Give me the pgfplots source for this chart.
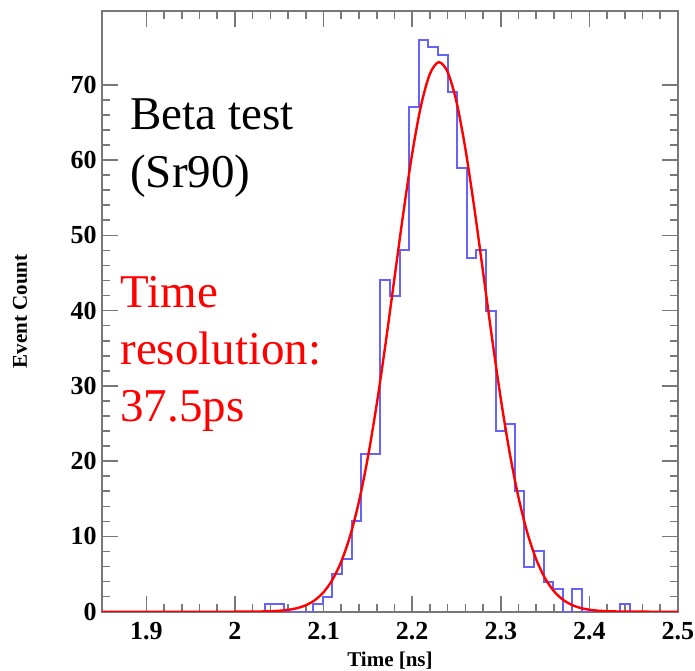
\documentclass[border=0pt]{standalone}
\usepackage{pgfplots}
\pgfplotsset{compat=1.18}
\usepackage{fontspec}
\setmainfont{Liberation Serif}
\definecolor{histblue}{RGB}{100,100,250}
\definecolor{framegray}{RGB}{120,120,120}
\begin{document}
\begin{tikzpicture}
\useasboundingbox (-51pt,-29.5pt) rectangle (296.5pt,305.85pt);
\begin{axis}[
  at={(0pt,0pt)}, anchor=south west,
  scale only axis, width=288pt, height=300.35pt,
  xmin=1.85, xmax=2.5, ymin=0, ymax=79.8,
  xtick={1.9,2,2.1,2.2,2.3,2.4,2.5},
  xticklabels={1.9,2,2.1,2.2,2.3,2.4,2.5},
  ytick={0,10,20,30,40,50,60,70},
  minor x tick num=4, minor y tick num=4,
  tick align=inside, xtick pos=both, ytick pos=both,
  major tick length=8pt, minor tick length=4pt,
  axis line style={framegray, line width=1pt},
  tick style={framegray, line width=0.8pt},
  /pgf/number format/assume math mode=true,
  tick label style={font=\fontsize{13}{13}\selectfont\bfseries, inner sep=0pt},
  xticklabel style={anchor=north, yshift=-5pt},
  yticklabel style={anchor=east, xshift=-2.5pt},
  xlabel={Time [ns]}, ylabel={Event Count},
  xlabel style={at={(axis description cs:0.5,-0.0916)}, anchor=base, font=\fontsize{10.5}{12}\selectfont\bfseries, inner sep=0pt},
  ylabel style={at={(axis description cs:-0.1424,0.5)}, anchor=center, font=\fontsize{10.5}{12}\selectfont\bfseries, inner sep=0pt},
]
\addplot[const plot, histblue, line width=1pt] coordinates {
(1.85,0) (2.0342,1) (2.0558,0) (2.0883,1) (2.0992,2) (2.1100,5) (2.1208,7)
(2.1317,12) (2.1425,21) (2.1642,44) (2.1750,42) (2.1858,48) (2.1967,67)
(2.2075,76) (2.2183,75) (2.2292,74) (2.2400,69) (2.2508,59) (2.2617,47)
(2.2725,48) (2.2833,40) (2.2942,24) (2.3050,25) (2.3158,16) (2.3267,6)
(2.3375,8) (2.3483,4) (2.3592,3) (2.3700,0) (2.3808,3) (2.3917,0)
(2.4350,1) (2.4458,0) (2.5,0)};
\addplot[red, line width=1.2pt, smooth] coordinates {
(1.85,0) (1.95,0) (2.00,0.001) (2.02,0.012) (2.04,0.059) (2.05,0.123) (2.06,0.245)
(2.07,0.468) (2.08,0.860) (2.09,1.523) (2.10,2.591) (2.11,4.236) (2.12,6.662)
(2.13,10.07) (2.14,14.65) (2.15,20.49) (2.16,27.55) (2.17,35.62) (2.18,44.28)
(2.19,52.93) (2.20,60.83) (2.21,67.23) (2.22,71.44) (2.23,73.0) (2.24,71.72)
(2.25,67.75) (2.26,61.55) (2.27,53.76) (2.28,45.15) (2.29,36.47) (2.30,28.32)
(2.31,21.14) (2.32,15.18) (2.33,10.48) (2.34,6.955) (2.35,4.441) (2.36,2.725)
(2.37,1.608) (2.38,0.913) (2.39,0.498) (2.40,0.262) (2.41,0.132) (2.42,0.064)
(2.44,0.013) (2.46,0.002) (2.5,0)};
\node[anchor=base west, inner sep=0pt, font=\fontsize{23.5}{28}\selectfont] at (axis cs:1.8815,64.0) {Beta test};
\node[anchor=base west, inner sep=0pt, font=\fontsize{23.5}{28}\selectfont] at (axis cs:1.8815,56.4) {(Sr90)};
\node[anchor=base west, inner sep=0pt, text=red, font=\fontsize{23.5}{28}\selectfont] at (axis cs:1.8703,40.4) {Time};
\node[anchor=base west, inner sep=0pt, text=red, font=\fontsize{23.5}{28}\selectfont] at (axis cs:1.8703,32.85) {resolution:};
\node[anchor=base west, inner sep=0pt, text=red, font=\fontsize{23.5}{28}\selectfont] at (axis cs:1.8703,25.3) {37.5ps};
\end{axis}
\end{tikzpicture}
\end{document}
